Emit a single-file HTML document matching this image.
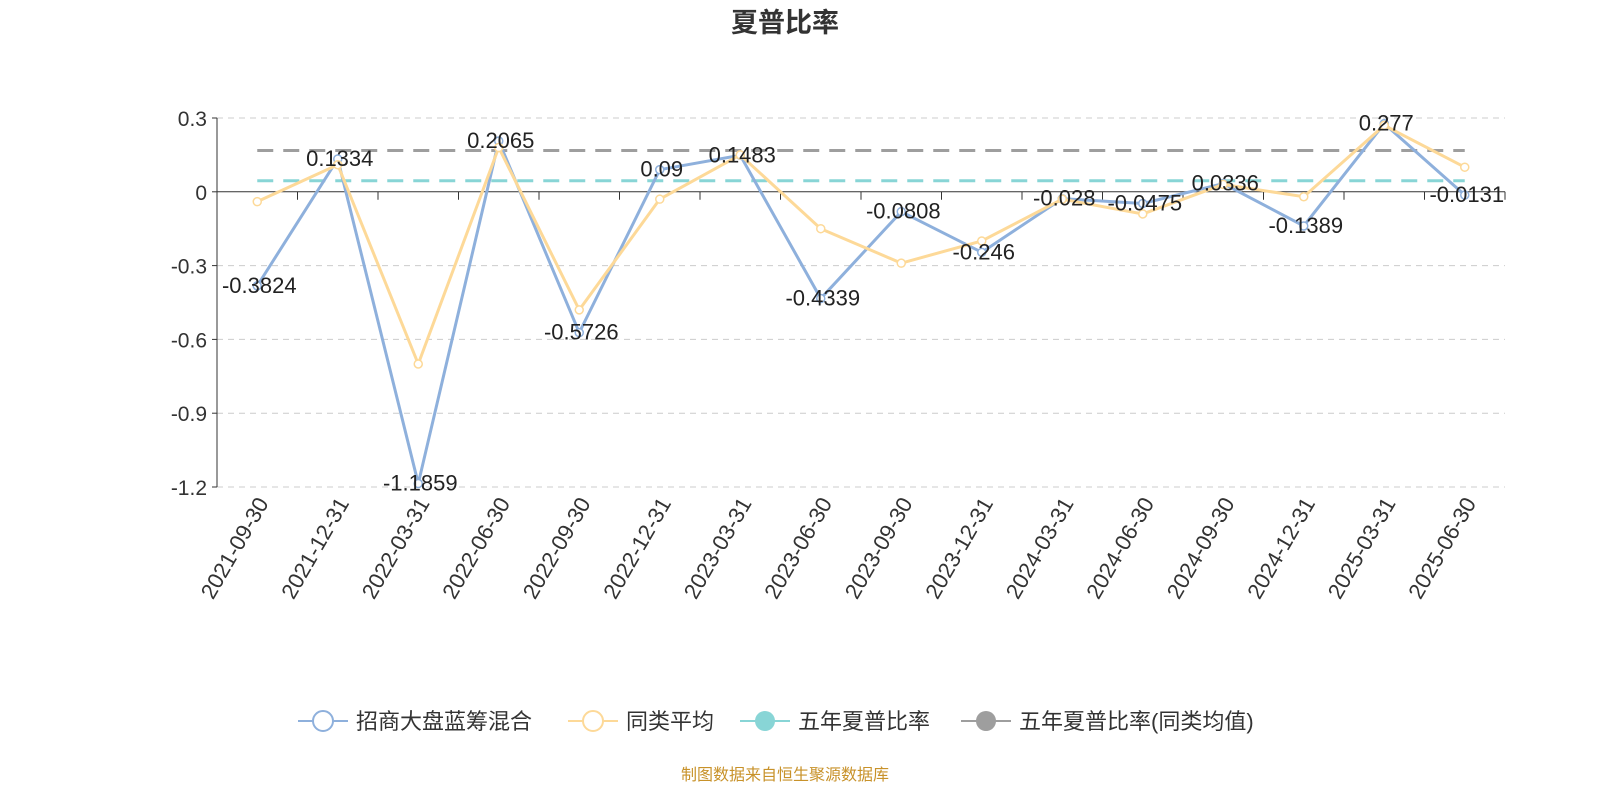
<!DOCTYPE html>
<html><head><meta charset="utf-8"><style>
body{margin:0;background:#fff;font-family:"Liberation Sans","Noto Sans CJK SC",sans-serif}
svg text{font-family:"Liberation Sans","Noto Sans CJK SC",sans-serif}
</style></head><body>
<svg id="c" width="1600" height="800">
<text x="785" y="32" text-anchor="middle" font-size="27" font-weight="bold" fill="#333">夏普比率</text>
<g id="grid"></g><g id="series"></g>
<g font-size="22" fill="#333">
<g><line x1="298" y1="721" x2="348" y2="721" stroke="#8eb0dc" stroke-width="2"/><circle cx="323" cy="721" r="10" fill="#fff" stroke="#8eb0dc" stroke-width="2"/><text x="356" y="729" fill="#333">招商大盘蓝筹混合</text></g>
<g><line x1="568" y1="721" x2="618" y2="721" stroke="#fdd998" stroke-width="2"/><circle cx="593" cy="721" r="10" fill="#fff" stroke="#fdd998" stroke-width="2"/><text x="626" y="729" fill="#333">同类平均</text></g>
<g><line x1="740" y1="721" x2="790" y2="721" stroke="#88d5d6" stroke-width="2"/><circle cx="765" cy="721" r="10" fill="#88d5d6"/><text x="798" y="729" fill="#333">五年夏普比率</text></g>
<g><line x1="961" y1="721" x2="1011" y2="721" stroke="#9e9e9e" stroke-width="2"/><circle cx="986" cy="721" r="10" fill="#9e9e9e"/><text x="1019" y="729" fill="#333">五年夏普比率(同类均值)</text></g>
</g>
<text x="785" y="780" text-anchor="middle" font-size="16" fill="#c8922a">制图数据来自恒生聚源数据库</text>
</svg>
<script>
const categories=["2021-09-30","2021-12-31","2022-03-31","2022-06-30","2022-09-30","2022-12-31","2023-03-31","2023-06-30","2023-09-30","2023-12-31","2024-03-31","2024-06-30","2024-09-30","2024-12-31","2025-03-31","2025-06-30"];
const fundValues=[-0.3824,0.1334,-1.1859,0.2065,-0.5726,0.09,0.1483,-0.4339,-0.0808,-0.246,-0.028,-0.0475,0.0336,-0.1389,0.277,-0.0131];
const peerValues=[-0.04,0.11,-0.70,0.18,-0.48,-0.03,0.15,-0.15,-0.29,-0.20,-0.03,-0.09,0.03,-0.02,0.27,0.10];
const fiveYear=[0.045];
const fiveYearPeer=[0.168];
const yTicks=[0.3,0,-0.3,-0.6,-0.9,-1.2];
const NS="http://www.w3.org/2000/svg";
const L=217,R=1505,bw=(R-L)/categories.length;
const xs=i=>L+bw*(i+0.5);
const ys=v=>118+(0.3-v)/1.5*369;
function mk(t,a,p){const e=document.createElementNS(NS,t);for(const k in a)e.setAttribute(k,a[k]);if(p)p.appendChild(e);return e;}
const g=document.getElementById('grid'),s=document.getElementById('series');
yTicks.forEach(v=>{
 if(v!==0){const ln=mk('line',{x1:L,x2:R,y1:ys(v),y2:ys(v),stroke:'#ccc','stroke-dasharray':'6,5'},g);
 }
 const t=mk('text',{x:L-10,y:ys(v)+8,'text-anchor':'end','font-size':21,fill:'#333'},g);t.textContent=v===0?'0':String(v);
 
 mk('line',{x1:L-5,x2:L,y1:ys(v),y2:ys(v),stroke:'#333'},g);
});
const ya=mk('line',{x1:L,x2:L,y1:ys(0.3),y2:ys(-1.2),stroke:'#333'},g);

const xa=mk('line',{x1:L,x2:R,y1:ys(0),y2:ys(0),stroke:'#333'},g);

for(let i=0;i<=categories.length;i++)mk('line',{x1:L+bw*i,x2:L+bw*i,y1:ys(0),y2:ys(0)+8,stroke:'#333'},g);
categories.forEach((c,i)=>{
 const t=mk('text',{transform:`translate(${xs(i)+12},${ys(-1.2)+16}) rotate(-60)`,'text-anchor':'end','font-size':22,fill:'#333'},g);t.textContent=c;
 
});
function hline(v,col,name){const l=mk('line',{x1:xs(0),x2:xs(categories.length-1),y1:ys(v),y2:ys(v),stroke:col,'stroke-width':3,'stroke-dasharray':'16,10'},s);
 }
hline(fiveYear[0],'#88d5d6','five-year-sharpe-line');
hline(fiveYearPeer[0],'#9e9e9e','five-year-peer-sharpe-line');
function series(vals,col,name){
 const p=mk('polyline',{points:vals.map((v,i)=>xs(i)+','+ys(v)).join(' '),fill:'none',stroke:col,'stroke-width':3},s);
 
 vals.forEach((v,i)=>{const c=mk('circle',{cx:xs(i),cy:ys(v),r:4,fill:'#fff',stroke:col,'stroke-width':1.5},s);
  });
}
series(fundValues,'#8eb0dc','fund');
series(peerValues,'#fdd998','peer-average');
fundValues.forEach((v,i)=>{const t=mk('text',{x:xs(i)+2,y:ys(v)+7,'text-anchor':'middle','font-size':22,fill:'#222'},s);t.textContent=String(v);
 });
</script>
</body></html>
